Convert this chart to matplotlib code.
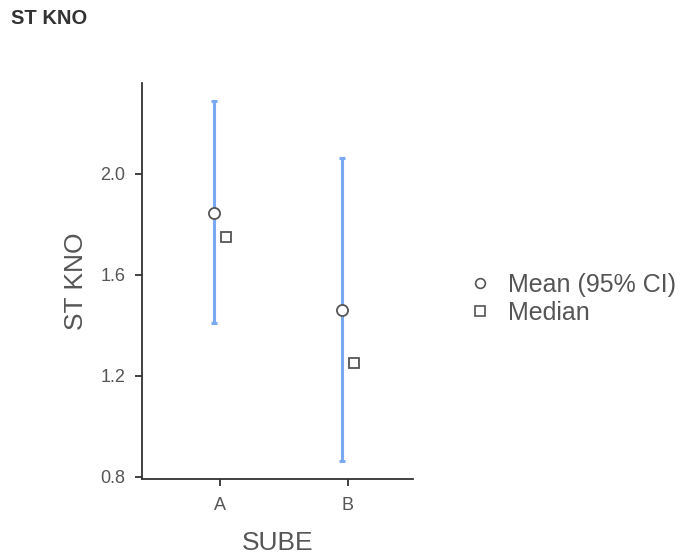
import numpy as np
import matplotlib
matplotlib.use("Agg")
import matplotlib.pyplot as plt
from matplotlib.lines import Line2D

plt.rcParams['font.family'] = ['Liberation Sans', 'DejaVu Sans']

# data
groups = ['A', 'B']
means = [1.846, 1.461]
ci_low = [1.410, 0.863]
ci_high = [2.289, 2.063]
medians = [1.75, 1.251]
y_ticks = [0.8, 1.2, 1.6, 2.0]

fig = plt.figure(figsize=(6.83, 5.56), dpi=100)
ax = fig.add_axes([142 / 683, 1 - 479 / 556, (413 - 142) / 683, (479 - 83) / 556])

x = np.arange(len(groups))
means = np.array(means)
err = np.vstack([means - np.array(ci_low), np.array(ci_high) - means])

ax.errorbar(x - 0.05, means, yerr=err, fmt='none', ecolor='#7aa8f2',
            elinewidth=2.2, capsize=2.5, capthick=2.2, zorder=2)
ax.plot(x - 0.05, means, 'o', ms=8, mfc='white', mec='#555555', mew=1.3, zorder=3)
ax.plot(x + 0.05, medians, 's', ms=7.5, mfc='white', mec='#555555', mew=1.3, zorder=3)

ax.set_xlim(-0.609, 1.508)
ax.set_ylim(0.792, 2.36)
ax.set_xticks(x)
ax.set_xticklabels(groups)
ax.set_yticks(y_ticks)
ax.set_yticklabels([f"{v:.1f}" for v in y_ticks])

for s in ['top', 'right']:
    ax.spines[s].set_visible(False)
for s in ['left', 'bottom']:
    ax.spines[s].set_color('#333333')
    ax.spines[s].set_linewidth(1.3)
ax.tick_params(colors='#333333', labelcolor='#555555', labelsize=13,
               length=5, width=1.3)
ax.tick_params(axis='x', pad=8)
ax.tick_params(axis='y', pad=7)

ax.set_xlabel('SUBE', fontsize=19, color='#555555', labelpad=12)
ax.set_ylabel('ST KNO', fontsize=19, color='#555555', labelpad=9)

fig.text(11 / 683, 1 - 19 / 556, 'ST KNO', fontsize=14.5, fontweight='bold',
         color='#333333', va='center', ha='left')

handles = [
    Line2D([], [], ls='none', marker='o', ms=7, mfc='white', mec='#555555', mew=1.2),
    Line2D([], [], ls='none', marker='s', ms=6.5, mfc='white', mec='#555555', mew=1.2),
]
fig.legend(handles, ['Mean (95% CI)', 'Median'], loc='center left',
           bbox_to_anchor=(455 / 683, 1 - 299 / 556), frameon=False,
           fontsize=18, labelcolor='#555555', handlelength=1.0,
           handletextpad=0.6, labelspacing=0.15, borderpad=0)

fig.savefig('out.png', dpi=100)
